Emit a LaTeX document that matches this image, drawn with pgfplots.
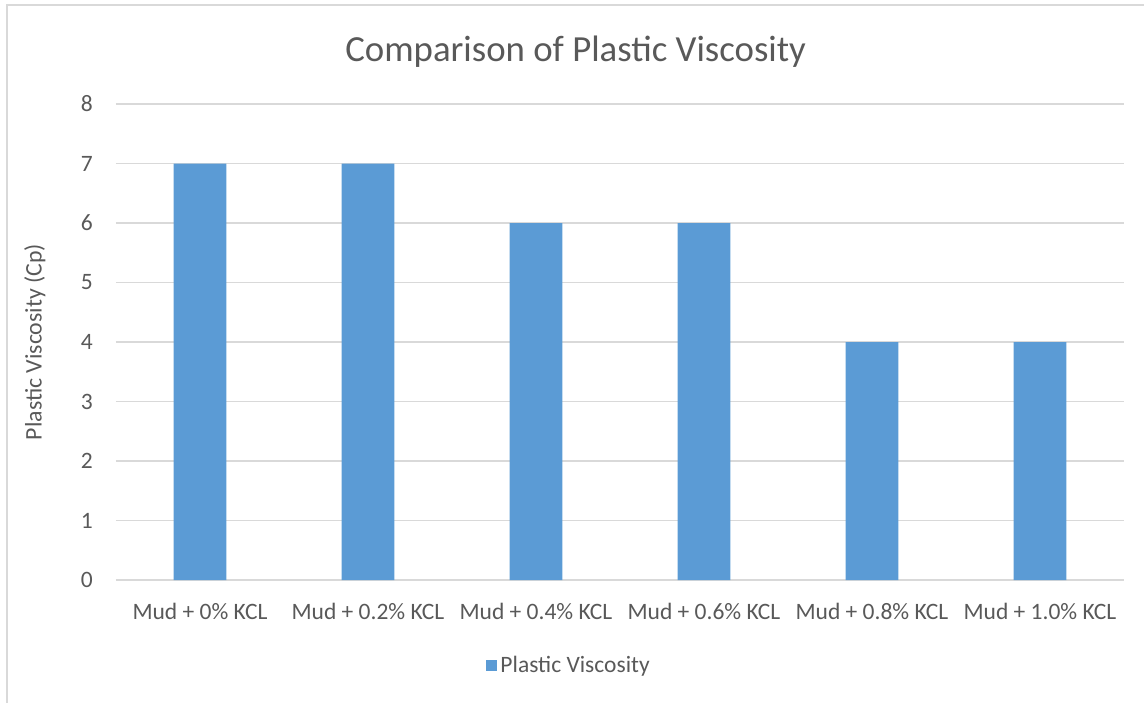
\documentclass[border=0pt]{standalone}
\usepackage{pgfplots}
\pgfplotsset{compat=1.18}
\usepackage{fontspec}
\setmainfont{Carlito}
\definecolor{barblue}{HTML}{5B9BD5}
\definecolor{gridgray}{HTML}{D9D9D9}
\definecolor{txtgray}{HTML}{595959}
\begin{document}
\begin{tikzpicture}
\useasboundingbox (-116pt,-122pt) rectangle (1028pt,580pt);
\draw[gridgray, line width=1.2pt] (-109pt,-140pt) -- (-109pt,575pt) -- (1040pt,575pt);
\begin{axis}[
  at={(0pt,0pt)}, anchor=south west,
  scale only axis,
  width=1008pt, height=476pt,
  xmin=-0.5, xmax=5.5,
  ymin=0, ymax=8,
  enlargelimits=false,
  xtick={0,1,2,3,4,5},
  xticklabels={Mud + 0\% KCL, Mud + 0.2\% KCL, Mud + 0.4\% KCL, Mud + 0.6\% KCL, Mud + 0.8\% KCL, Mud + 1.0\% KCL},
  ytick={0,1,2,3,4,5,6,7,8},
  /pgf/number format/assume math mode=true,
  tick style={draw=none},
  axis line style={draw=none},
  ymajorgrids,
  grid style={gridgray, line width=1.3pt},
  font=\fontsize{23.5}{28}\selectfont,
  tick label style={font=\fontsize{23.5}{28}\selectfont, text=txtgray},
  y tick label style={inner sep=0pt, anchor=east, xshift=-23pt},
  x tick label style={inner sep=0pt, anchor=base, yshift=-39pt},
  title={Comparison of Plastic Viscosity},
  title style={at={(axis description cs:0.456,1.0775)}, anchor=base, font=\fontsize{36.8}{42}\selectfont, text=txtgray, inner sep=0pt},
  ylabel={Plastic Viscosity (Cp)},
  ylabel style={at={(axis description cs:-0.0804,0.5)}, anchor=center, font=\fontsize{23.8}{28}\selectfont, text=txtgray, inner sep=0pt},
  legend style={at={(axis description cs:0.45,-0.1786)}, anchor=center, draw=none, fill=none, font=\fontsize{23.5}{28}\selectfont, text=txtgray, inner sep=0pt, nodes={inner sep=3pt}},
  legend image code/.code={\fill[barblue] (0pt,-5.5pt) rectangle (11pt,5.5pt);},
]
\addplot[ybar, bar width=0.314, fill=barblue, draw=none] coordinates {
  (0,7) (1,7) (2,6) (3,6) (4,4) (5,4)
};
\addlegendentry{Plastic Viscosity}
\end{axis}
\end{tikzpicture}
\end{document}
